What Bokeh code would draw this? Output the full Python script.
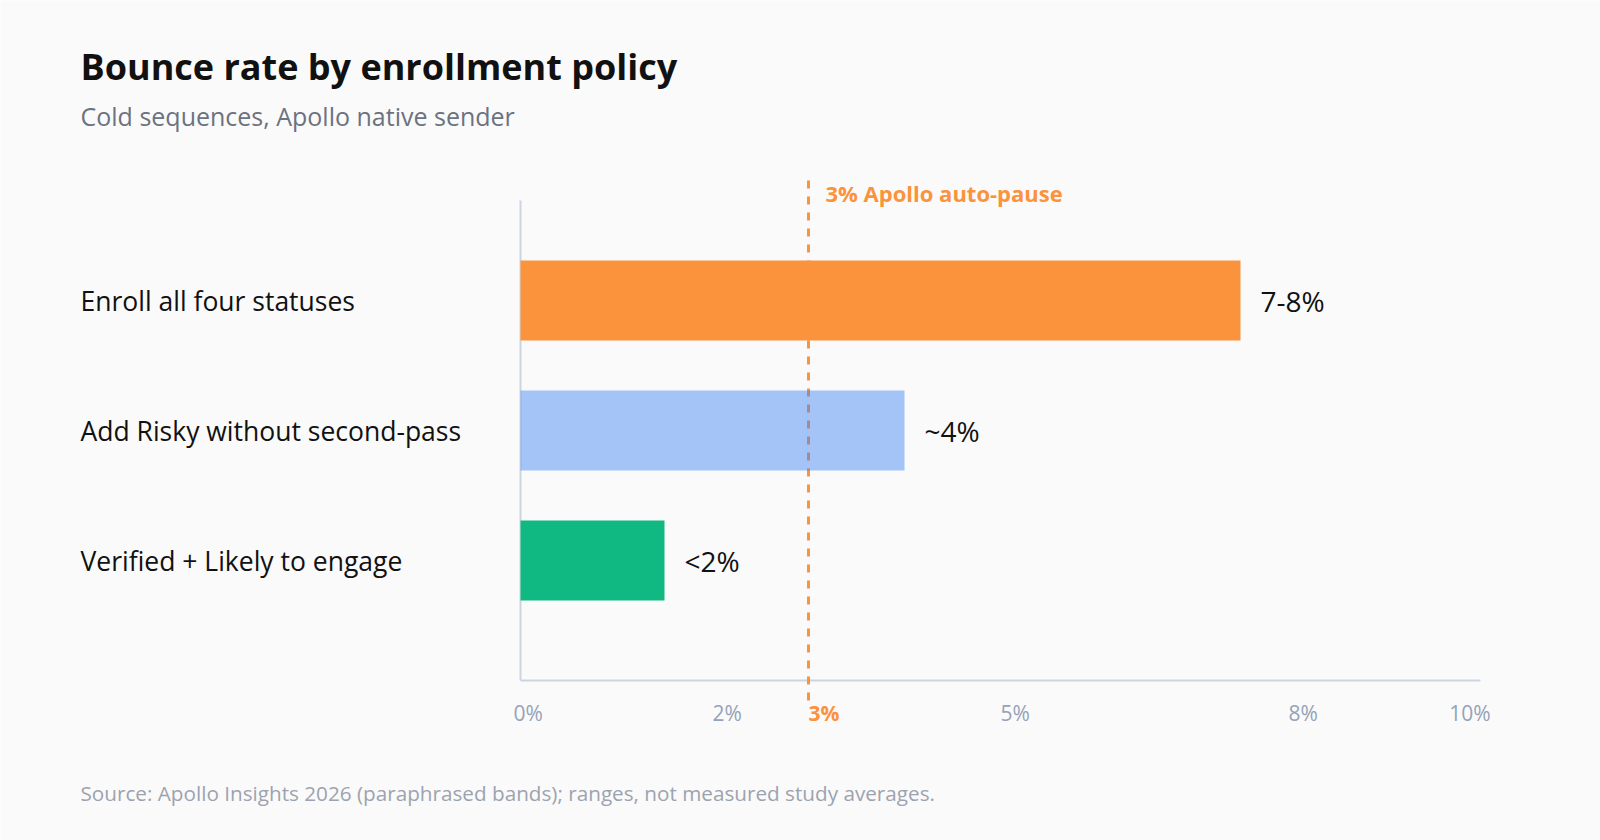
from bokeh.plotting import figure
from bokeh.models import Range1d, Label
from bokeh.core.properties import value
from bokeh.embed import file_html
from bokeh.resources import INLINE

# ---- data ----
categories = ["Enroll all four statuses", "Add Risky without second-pass", "Verified + Likely to engage"]
bounce_pct = [7.5, 4.0, 1.5]
value_labels = ["7-8%", "~4%", "<2%"]
bar_colors = ["#fb923c", "#3b82f6", "#10b981"]
bar_alphas = [1.0, 0.45, 1.0]
tick_values = [0, 2, 3, 5, 8, 10]
tick_labels = ["0%", "2%", "3%", "5%", "8%", "10%"]
threshold = 3
threshold_label = "3% Apollo auto-pause"
title_text = "Bounce rate by enrollment policy"
subtitle_text = "Cold sequences, Apollo native sender"
source_text = "Source: Apollo Insights 2026 (paraphrased bands); ranges, not measured study averages."

# ---- layout ----
W, H = 1600, 840
FONT = "Open Sans"
X0_PX = 520          # pixel of 0%
PX_PER_PCT = 96
ROW_PX = 130         # pixels per category row
FIRST_ROW_PX = 300   # pixel (from top) of first row centre
n = len(categories)
rows = [n - 1 - i for i in range(n)]   # top row has highest value
TOP_ROW = n - 1

def ypx(px):  # pixel from top -> data y
    return TOP_ROW - (px - FIRST_ROW_PX) / ROW_PX

x_range = Range1d(-X0_PX / PX_PER_PCT, (W - X0_PX) / PX_PER_PCT)
y_range = Range1d(ypx(H), ypx(0))

p = figure(width=W, height=H, x_range=x_range, y_range=y_range,
           x_axis_type=None, y_axis_type=None, output_backend="svg",
           toolbar_location=None, min_border=0, outline_line_color=None,
           background_fill_color="#fafafa", border_fill_color="#fafafa")
p.grid.visible = False

AX_TOP, AX_BOT = ypx(200), ypx(680)
axis_color = "#cbd5e1"
# axes
p.segment(x0=[0], y0=[AX_BOT], x1=[0], y1=[AX_TOP], line_color=axis_color, line_width=2)
p.segment(x0=[0], y0=[AX_BOT], x1=[tick_values[-1]], y1=[AX_BOT], line_color=axis_color, line_width=2)

# threshold line (under bars)
p.segment(x0=[threshold], y0=[ypx(700)], x1=[threshold], y1=[ypx(180)],
          line_color="#fb923c", line_width=3, line_dash="8 8")

# bars
p.hbar(y=rows, left=0, right=bounce_pct, height=80 / ROW_PX,
       fill_color=bar_colors, fill_alpha=bar_alphas, line_color=None)

# value labels
p.text(x=bounce_pct, y=rows, text=value_labels, x_offset=20,
       text_baseline="middle", text_align="left", text_font=value(FONT),
       text_font_size="28px", text_color="#111111")

# category labels
p.text(x=[x_range.start] * n, y=rows, text=categories, x_offset=80,
       text_baseline="middle", text_align="left", text_font=value(FONT),
       text_font_size="26.5px", text_color="#111111")

# tick labels
tick_colors = ["#fb923c" if t == threshold else "#94a3b8" for t in tick_values]
tick_styles = ["bold" if t == threshold else "normal" for t in tick_values]
tick_offsets = [-7] + [0] * (len(tick_values) - 2) + [10]
tick_aligns = ["left"] * (len(tick_values) - 1) + ["right"]
p.text(x=tick_values, y=[ypx(712)] * len(tick_values), text=tick_labels,
       x_offset=tick_offsets, text_align=tick_aligns, text_baseline="middle",
       text_font=value(FONT), text_font_size="21px", text_color=tick_colors,
       text_font_style=tick_styles)

# threshold annotation
p.text(x=[threshold], y=[ypx(192)], text=[threshold_label], x_offset=17,
       text_baseline="middle", text_align="left", text_font=value(FONT),
       text_font_size="22px", text_font_style="bold", text_color="#fb923c")

# titles
p.add_layout(Label(x=80, y=H - 66, x_units="screen", y_units="screen", text=title_text,
                   text_font=FONT, text_font_size="36px", text_font_style="bold",
                   text_color="#111111", text_baseline="middle"))
p.add_layout(Label(x=80, y=H - 115, x_units="screen", y_units="screen", text=subtitle_text,
                   text_font=FONT, text_font_size="25px", text_color="#6b7280",
                   text_baseline="middle"))
p.add_layout(Label(x=80, y=H - 792, x_units="screen", y_units="screen", text=source_text,
                   text_font=FONT, text_font_size="20.7px", text_color="#9ca3af",
                   text_baseline="middle"))

open("out.html", "w").write(file_html(p, INLINE))
